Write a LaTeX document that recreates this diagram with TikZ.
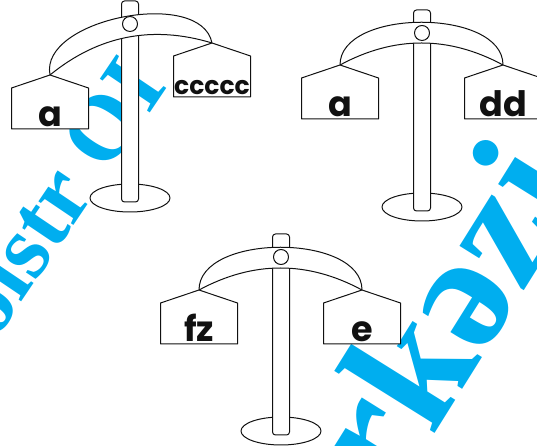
\documentclass[tikz,border=0pt]{standalone}
\usepackage{fontspec}
\setmainfont{Poppins}
\newfontfamily\stampfont{Liberation Serif}
\usetikzlibrary{calc}
\definecolor{balInk}{HTML}{111111}
\definecolor{balStamp}{HTML}{00AEEF}
\newcommand\smallpan{\fontsize{25}{25}\selectfont}
\tikzset{
  bal line/.style={draw=balInk, fill=white, line width=1pt, line join=round},
  bal pole/.style={bal line, rounded corners=3pt},
  bal label/.style={font=\fontsize{35}{35}\selectfont\bfseries, text=balInk, inner sep=0pt},
  bal stamp/.style={font=\stampfont\bfseries, text=balStamp, inner sep=0pt},
}

\begin{document}
\begin{tikzpicture}[x=1pt, y=1pt]
  \useasboundingbox (0,0) rectangle (537,446);
  \begin{scope}
  \clip (0,0) rectangle (537,446);

  % Stamp text underneath
  \node[bal stamp, font=\stampfont\bfseries\fontsize{92}{92}\selectfont, rotate=56, anchor=base west] (stamp-left) at (-5,104) {oistr OI};
  \node[bal stamp, font=\stampfont\bfseries\fontsize{170}{170}\selectfont, rotate=58, anchor=base west] (stamp-right) at (392,-56) {rkəzi};

  % Three balances: pivot, left end, right end, pan texts
  \foreach \nm/\px/\py/\lx/\ly/\rx/\ry/\ltext/\rtext in {
      one/130/422/-80/-51/82/-19/a/{\smallpan ccccc},
      two/422/413/-82/-32/81/-32/a/dd,
      three/281/189/-82/-33/81/-33/fz/e} {
    \coordinate (\nm-pivot) at (\px,\py);
    \coordinate (\nm-l) at ($(\nm-pivot)+(\lx,\ly)$);
    \coordinate (\nm-r) at ($(\nm-pivot)+(\rx,\ry)$);
    \coordinate (\nm-mid) at ($(\nm-l)!0.5!(\nm-r)$);
    \coordinate (\nm-sag) at ($(\nm-mid)!44pt!90:(\nm-r)$);

    % base and pole
    \draw[bal line] ($(\nm-pivot)+(0,-174)$) ellipse [x radius=40, y radius=14];
    \draw[bal pole] ($(\nm-pivot)+(-8.5,23)$) rectangle ($(\nm-pivot)+(8.5,-178)$);

    % beam
    \draw[bal line] (\nm-l) .. controls ($(\nm-l)!57pt!90:(\nm-r)$) and ($(\nm-r)!57pt!-90:(\nm-l)$) .. (\nm-r)
      .. controls ($(\nm-r)!2/3!(\nm-sag)$) and ($(\nm-l)!2/3!(\nm-sag)$) .. (\nm-l) -- cycle;
    \draw[bal line] (\nm-pivot) circle (7.5);

    % pans
    \foreach \sd/\txt in {l/\ltext, r/\rtext} {
      \draw[bal line] (\nm-\sd) -- ++(38.5,-13) -- ++(0,-41) -- ++(-77,0) -- ++(0,41) -- cycle;
      \node[bal label, anchor=base] (\nm-\sd-text) at ($(\nm-\sd)+(0,-52)$) {\txt};
    }
  }
  \end{scope}
\end{tikzpicture}
\end{document}
